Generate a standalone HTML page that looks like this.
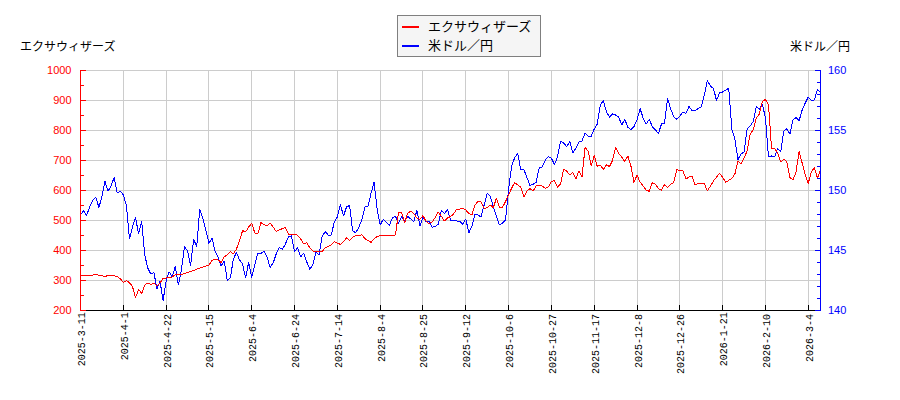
<!DOCTYPE html>
<html><head><meta charset="utf-8"><title>chart</title>
<style>html,body{margin:0;padding:0;background:#fff;font-family:"Liberation Sans",sans-serif}svg{position:absolute;left:0;top:0}</style></head>
<body>
<svg width="900" height="400" viewBox="0 0 900 400" style="display:block">
<rect width="900" height="400" fill="#fff"/>
<path fill="#cccccc" shape-rendering="crispEdges" d="M123 70h1v240h-1zM166 70h1v240h-1zM208 70h1v240h-1zM251 70h1v240h-1zM294 70h1v240h-1zM337 70h1v240h-1zM380 70h1v240h-1zM422 70h1v240h-1zM465 70h1v240h-1zM508 70h1v240h-1zM551 70h1v240h-1zM594 70h1v240h-1zM637 70h1v240h-1zM679 70h1v240h-1zM722 70h1v240h-1zM765 70h1v240h-1zM808 70h1v240h-1zM80 70h740v1h-740zM80 100h740v1h-740zM80 130h740v1h-740zM80 160h740v1h-740zM80 190h740v1h-740zM80 220h740v1h-740zM80 250h740v1h-740zM80 280h740v1h-740z"/>
<path d="M80.5 214.4 L83.56 211 L86.62 215.2 L89.67 207 L92.73 200 L95.79 197 L98.85 207.4 L101.9 197 L104.96 181.4 L108.02 191.2 L111.08 186 L114.14 177.4 L117.19 193 L120.25 191 L123.31 195 L126.37 205 L129.43 239 L132.48 227 L135.54 217.6 L138.6 234 L141.66 221.4 L144.71 255 L147.77 268 L150.83 274 L153.89 272.4 L156.95 289 L160 281 L163.06 300.6 L166.12 281 L169.18 272 L172.24 277 L175.29 266.4 L178.35 285 L181.41 270 L184.47 246.4 L187.52 251 L190.58 265.4 L193.64 239.4 L196.7 246.5 L199.76 209.4 L202.81 218 L205.87 230 L208.93 243.4 L211.99 238 L215.05 251 L218.1 257 L221.16 266 L224.22 261 L227.28 280.4 L230.33 278 L233.39 259 L236.45 252.4 L239.51 260 L242.57 264 L245.62 278 L248.68 262 L251.74 277.6 L254.8 265 L257.86 253 L260.91 253.6 L263.97 251 L267.03 257 L270.09 267.4 L273.14 263 L276.2 254 L279.26 247.6 L282.32 249.4 L285.38 244 L288.43 237 L291.49 236 L294.55 252 L297.61 247.4 L300.67 257 L303.72 253 L306.78 262 L309.84 269.4 L312.9 264.6 L315.95 252 L319.01 255 L322.07 237 L325.13 231.6 L328.19 235 L331.24 235 L334.3 222 L337.36 217 L340.42 204.6 L343.48 216 L346.53 207 L349.59 205.4 L352.65 231 L355.71 232.6 L358.76 227.4 L361.82 220 L364.88 207 L367.94 206.2 L371 193.5 L374.05 182.4 L377.11 209 L380.17 225 L383.23 219.4 L386.29 222.4 L389.34 225.4 L392.4 218 L395.46 216.4 L398.52 223 L401.57 217 L404.63 220.6 L407.69 216.4 L410.75 219 L413.81 222 L416.86 210.2 L419.92 226 L422.98 217.4 L426.04 221.4 L429.1 221.4 L432.15 227.4 L435.21 226.4 L438.27 224.4 L441.33 210.4 L444.38 213.6 L447.44 209.4 L450.5 220 L453.56 220.6 L456.62 221 L459.67 221 L462.73 224.4 L465.79 219 L468.85 232.8 L471.9 226 L474.96 214.4 L478.02 215 L481.08 217 L484.14 205 L487.19 193.6 L490.25 196 L493.31 207 L496.37 216 L499.43 225 L502.48 223 L505.54 220 L508.6 189 L511.66 166 L514.71 157.6 L517.77 153.6 L520.83 170 L523.89 169.4 L526.95 177.6 L530 185.4 L533.06 184.4 L536.12 182.4 L539.18 168 L542.24 167 L545.29 160 L548.35 156.4 L551.41 158.4 L554.47 164.4 L557.52 157 L560.58 141.4 L563.64 143 L566.7 146.6 L569.76 141.6 L572.81 153 L575.87 148 L578.93 142 L581.99 141 L585.05 133 L588.1 136.4 L591.16 136.4 L594.22 129 L597.28 124 L600.33 105 L603.39 100.4 L606.45 112 L609.51 117 L612.57 114 L615.62 115 L618.68 117 L621.74 125 L624.8 119.3 L627.86 127.4 L630.91 129.4 L633.97 126.6 L637.03 120 L640.09 108.6 L643.14 118 L646.2 124 L649.26 119.3 L652.32 126.6 L655.38 130 L658.43 133.4 L661.49 124 L664.55 123 L667.61 98.6 L670.67 109 L673.72 116.6 L676.78 119.4 L679.84 116 L682.9 112 L685.95 113.4 L689.01 106.4 L692.07 110.6 L695.13 110.4 L698.19 108.6 L701.24 107 L704.3 95 L707.36 80.6 L710.42 86 L713.48 88.6 L716.53 100.4 L719.59 93 L722.65 92 L725.71 90 L728.76 88.4 L731.82 129 L734.88 139 L737.94 159.6 L741 154 L744.05 152 L747.11 129 L750.17 126 L753.23 121.4 L756.29 106.4 L759.34 109.4 L762.4 104.3 L765.46 118 L768.52 157 L771.57 156 L774.63 157 L777.69 148.4 L780.75 152 L783.81 131 L786.86 128.6 L789.92 134 L792.98 120.07 L796.04 117.6 L799.1 120.6 L802.15 110 L805.21 103 L808.27 97 L811.33 100.4 L814.38 100 L817.44 89.4 L820.5 92" fill="none" stroke="#0000ff" stroke-width="1" stroke-linejoin="round" stroke-linecap="round" shape-rendering="crispEdges"/>
<path d="M80.5 275.6 L83.56 275.45 L86.62 275.32 L89.67 275.19 L92.73 275 L95.79 274.4 L98.85 275.2 L101.9 275.8 L104.96 276.4 L108.02 275.6 L111.08 275.4 L114.14 275.8 L117.19 276.6 L120.25 278.6 L123.31 282.6 L126.37 280.6 L129.43 282.6 L132.48 286.6 L135.54 297.6 L138.6 289.4 L141.66 293.4 L144.71 285 L147.77 283 L150.83 284.6 L153.89 283 L156.95 286 L160 283 L163.06 278.4 L166.12 278 L169.18 277.6 L172.24 277 L175.29 274.6 L178.35 275 L181.41 274.4 L184.47 273.6 L187.52 272.4 L190.58 271.4 L193.64 270.4 L196.7 269.2 L199.76 268.2 L202.81 267 L205.87 266 L208.93 265 L211.99 260.4 L215.05 259 L218.1 260 L221.16 262.4 L224.22 257 L227.28 254.6 L230.33 251.4 L233.39 254 L236.45 249 L239.51 241 L242.57 230.6 L245.62 232 L248.68 226.89 L251.74 223.4 L254.8 233 L257.86 234 L260.91 222.6 L263.97 224.6 L267.03 226 L270.09 223 L273.14 227 L276.2 231.6 L279.26 230 L282.32 228.6 L285.38 227.4 L288.43 234 L291.49 235 L294.55 234.2 L297.61 235.4 L300.67 239 L303.72 244 L306.78 242.6 L309.84 248 L312.9 251 L315.95 251 L319.01 252 L322.07 251.6 L325.13 248 L328.19 246.4 L331.24 245 L334.3 241.6 L337.36 243 L340.42 244.4 L343.48 241.6 L346.53 238 L349.59 240.4 L352.65 237.4 L355.71 235.6 L358.76 236 L361.82 234.6 L364.88 238.6 L367.94 240.4 L371 242.4 L374.05 239 L377.11 236.4 L380.17 235.6 L383.23 236 L386.29 235.4 L389.34 236 L392.4 235 L395.46 235 L398.52 212.4 L401.57 212.4 L404.63 223 L407.69 213 L410.75 211.4 L413.81 213.4 L416.86 218 L419.92 219.4 L422.98 215.6 L426.04 221.4 L429.1 223.6 L432.15 222 L435.21 217.5 L438.27 212 L441.33 216.3 L444.38 221 L447.44 218 L450.5 216.6 L453.56 214 L456.62 209.4 L459.67 209 L462.73 208.4 L465.79 210 L468.85 213.6 L471.9 215 L474.96 205 L478.02 201.4 L481.08 202 L484.14 208.6 L487.19 207.4 L490.25 205 L493.31 207.6 L496.37 198.4 L499.43 207.4 L502.48 207.4 L505.54 201.4 L508.6 195 L511.66 188 L514.71 182.6 L517.77 185 L520.83 187 L523.89 197 L526.95 191 L530 188.6 L533.06 191 L536.12 186 L539.18 185.4 L542.24 186 L545.29 188.4 L548.35 187 L551.41 181.6 L554.47 180.6 L557.52 187 L560.58 184 L563.64 169.4 L566.7 171 L569.76 175 L572.81 172.4 L575.87 179 L578.93 171 L581.99 177 L585.05 147.6 L588.1 151 L591.16 166 L594.22 155.4 L597.28 166.5 L600.33 165 L603.39 169.5 L606.45 165 L609.51 166.5 L612.57 160.3 L615.62 147.6 L618.68 153.6 L621.74 157 L624.8 161.6 L627.86 156 L630.91 166 L633.97 182.4 L637.03 175.2 L640.09 182 L643.14 186 L646.2 190 L649.26 191.4 L652.32 182.6 L655.38 184.4 L658.43 188.6 L661.49 190 L664.55 184.4 L667.61 187.4 L670.67 184 L673.72 182.6 L676.78 169.4 L679.84 170.6 L682.9 170.6 L685.95 179 L689.01 177 L692.07 176.4 L695.13 185 L698.19 183.4 L701.24 183.4 L704.3 183.4 L707.36 191 L710.42 186 L713.48 181 L716.53 177 L719.59 173.4 L722.65 177.4 L725.71 182.4 L728.76 180.4 L731.82 178.4 L734.88 174 L737.94 161 L741 164 L744.05 158 L747.11 151 L750.17 134 L753.23 130 L756.29 118 L759.34 114 L762.4 101.4 L765.46 99.4 L768.52 105 L771.57 149 L774.63 148.6 L777.69 153 L780.75 162 L783.81 159 L786.86 162 L789.92 177.6 L792.98 180 L796.04 172 L799.1 151.4 L802.15 163 L805.21 175 L808.27 183.4 L811.33 171.6 L814.38 168 L817.44 178 L820.5 170" fill="none" stroke="#ff0000" stroke-width="1" stroke-linejoin="round" stroke-linecap="round" shape-rendering="crispEdges"/>
<path fill="#000" shape-rendering="crispEdges" d="M80 310h741v1h-741zM123 305h1v5h-1zM166 305h1v5h-1zM208 305h1v5h-1zM251 305h1v5h-1zM294 305h1v5h-1zM337 305h1v5h-1zM380 305h1v5h-1zM422 305h1v5h-1zM465 305h1v5h-1zM508 305h1v5h-1zM551 305h1v5h-1zM594 305h1v5h-1zM637 305h1v5h-1zM679 305h1v5h-1zM722 305h1v5h-1zM765 305h1v5h-1zM808 305h1v5h-1z"/>
<path fill="#ff0000" shape-rendering="crispEdges" d="M80 70h1v241h-1zM80 70h6v1h-6zM80 100h6v1h-6zM80 130h6v1h-6zM80 160h6v1h-6zM80 190h6v1h-6zM80 220h6v1h-6zM80 250h6v1h-6zM80 280h6v1h-6zM80 310h6v1h-6zM80 85h4v1h-4zM80 115h4v1h-4zM80 145h4v1h-4zM80 175h4v1h-4zM80 205h4v1h-4zM80 235h4v1h-4zM80 265h4v1h-4zM80 295h4v1h-4z"/>
<path fill="#0000ff" shape-rendering="crispEdges" d="M820 70h1v241h-1zM815 70h6v1h-6zM817 82h4v1h-4zM817 94h4v1h-4zM817 106h4v1h-4zM817 118h4v1h-4zM815 130h6v1h-6zM817 142h4v1h-4zM817 154h4v1h-4zM817 166h4v1h-4zM817 178h4v1h-4zM815 190h6v1h-6zM817 202h4v1h-4zM817 214h4v1h-4zM817 226h4v1h-4zM817 238h4v1h-4zM815 250h6v1h-6zM817 262h4v1h-4zM817 274h4v1h-4zM817 286h4v1h-4zM817 298h4v1h-4zM815 310h6v1h-6z"/>
<g font-family="&quot;Liberation Sans&quot;, sans-serif" font-size="11" fill="#ff0000" text-anchor="end">
<text x="71.5" y="74.3">1000</text>
<text x="71.5" y="104.3">900</text>
<text x="71.5" y="134.3">800</text>
<text x="71.5" y="164.3">700</text>
<text x="71.5" y="194.3">600</text>
<text x="71.5" y="224.3">500</text>
<text x="71.5" y="254.3">400</text>
<text x="71.5" y="284.3">300</text>
<text x="71.5" y="314.3">200</text>
</g>
<g font-family="&quot;Liberation Sans&quot;, sans-serif" font-size="11" fill="#0000ff" text-anchor="start">
<text x="828" y="74.3">160</text>
<text x="828" y="134.3">155</text>
<text x="828" y="194.3">150</text>
<text x="828" y="254.3">145</text>
<text x="828" y="314.3">140</text>
</g>
<g font-family="&quot;Liberation Mono&quot;, monospace" font-size="10" fill="#000" text-anchor="end">
<text transform="translate(85.2 312.2) rotate(-90)" x="0" y="-0.6">2025-3-11</text>
<text transform="translate(128.2 312.2) rotate(-90)" x="0" y="-0.6">2025-4-1</text>
<text transform="translate(171.2 314) rotate(-90)" x="0" y="-0.6">2025-4-22</text>
<text transform="translate(213.2 314) rotate(-90)" x="0" y="-0.6">2025-5-15</text>
<text transform="translate(256.2 314) rotate(-90)" x="0" y="-0.6">2025-6-4</text>
<text transform="translate(299.2 314) rotate(-90)" x="0" y="-0.6">2025-6-24</text>
<text transform="translate(342.2 314) rotate(-90)" x="0" y="-0.6">2025-7-14</text>
<text transform="translate(385.2 314) rotate(-90)" x="0" y="-0.6">2025-8-4</text>
<text transform="translate(427.2 314) rotate(-90)" x="0" y="-0.6">2025-8-25</text>
<text transform="translate(470.2 314) rotate(-90)" x="0" y="-0.6">2025-9-12</text>
<text transform="translate(513.2 314) rotate(-90)" x="0" y="-0.6">2025-10-6</text>
<text transform="translate(556.2 314) rotate(-90)" x="0" y="-0.6">2025-10-27</text>
<text transform="translate(599.2 314) rotate(-90)" x="0" y="-0.6">2025-11-17</text>
<text transform="translate(642.2 314) rotate(-90)" x="0" y="-0.6">2025-12-8</text>
<text transform="translate(684.2 314) rotate(-90)" x="0" y="-0.6">2025-12-26</text>
<text transform="translate(727.2 312.2) rotate(-90)" x="0" y="-0.6">2026-1-21</text>
<text transform="translate(770.2 314) rotate(-90)" x="0" y="-0.6">2026-2-10</text>
<text transform="translate(813.2 314) rotate(-90)" x="0" y="-0.6">2026-3-4</text>
</g>
<text x="20" y="51" font-family="&quot;Liberation Sans&quot;, &quot;Noto Sans CJK JP&quot;, sans-serif" font-size="12" fill="#000">エクサウィザーズ</text>
<text x="849.9" y="50.6" text-anchor="end" font-family="&quot;Liberation Sans&quot;, &quot;Noto Sans CJK JP&quot;, sans-serif" font-size="12" fill="#000">米ドル／円</text>
<rect x="397.5" y="15.5" width="143" height="41" fill="#f5f5f5" stroke="#7f7f7f" stroke-width="1"/>
<rect x="402" y="26" width="17" height="2" fill="#ff0000" shape-rendering="crispEdges"/>
<rect x="402" y="45" width="17" height="2" fill="#0000ff" shape-rendering="crispEdges"/>
<text x="428" y="31.1" font-family="&quot;Liberation Sans&quot;, &quot;Noto Sans CJK JP&quot;, sans-serif" font-size="13" fill="#000">エクサウィザーズ</text>
<text x="428" y="50.1" font-family="&quot;Liberation Sans&quot;, &quot;Noto Sans CJK JP&quot;, sans-serif" font-size="13" fill="#000">米ドル／円</text>
</svg>
</body></html>
